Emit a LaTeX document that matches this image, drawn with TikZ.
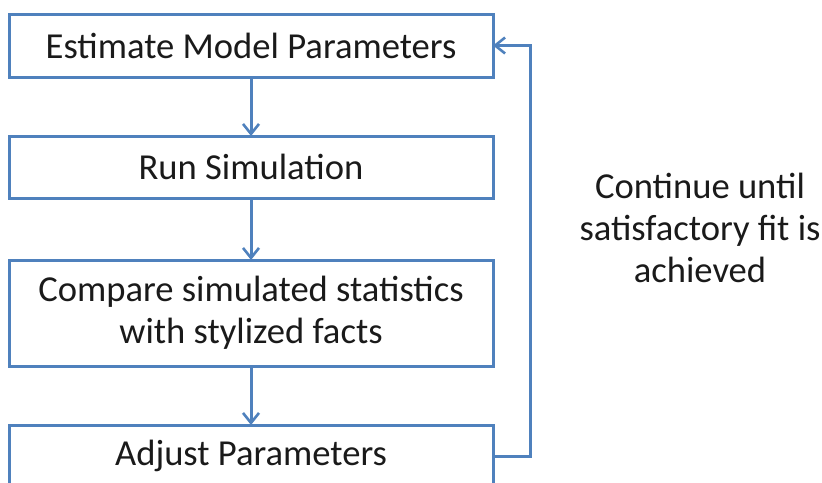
\documentclass[tikz,border=0pt]{standalone}
\usepackage{fontspec}
\setmainfont{Carlito}
\usetikzlibrary{arrows.meta,positioning}
\definecolor{boxblue}{HTML}{4F81BD}
\definecolor{textgray}{HTML}{1A1A1A}

\begin{document}
\begin{tikzpicture}[x=0.5pt, y=-0.5pt,
  stagebox/.style={draw=boxblue, line width=1.5pt, rectangle, minimum width=242pt,
    inner sep=0pt, outer sep=0pt, align=center, text=textgray, font=\fontsize{18.3}{21}\selectfont},
  flow/.style={draw=boxblue, line width=1.5pt, -{Straight Barb[length=5pt, width=8pt, line width=1.3pt]}},
  node distance=29.5pt]
\useasboundingbox (0,0) rectangle (822,482);

\node[stagebox, minimum height=31.5pt] (estimate) at (251,45.5) {Estimate Model Parameters};
\node[stagebox, minimum height=31pt, below=of estimate] (run) {Run Simulation};
\node[stagebox, minimum height=53pt, below=31pt of run] (compare) {Compare simulated statistics\\with stylized facts};
\node[stagebox, minimum height=31pt, below=of compare] (adjust) {Adjust Parameters};

\draw[flow] (estimate) -- (run);
\draw[flow] (run) -- (compare);
\draw[flow] (compare) -- (adjust);
% feedback loop back to the top
\draw[flow] (adjust.east) -- ++(18.5pt,0) |- (estimate.east);

\node[align=center, text=textgray, font=\fontsize{18.3}{21}\selectfont] (note) at (700,228)
  {Continue until\\satisfactory fit is\\achieved};
\end{tikzpicture}
\end{document}
